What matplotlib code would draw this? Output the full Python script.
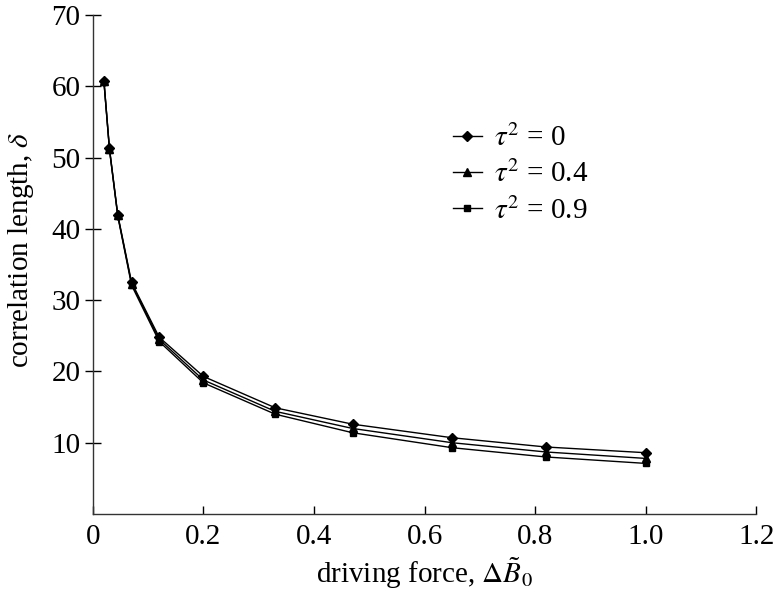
import matplotlib
matplotlib.use("Agg")
import matplotlib.pyplot as plt

# driving force values (x) and correlation length for each tau^2
force = [0.02, 0.03, 0.045, 0.07, 0.12, 0.2, 0.33, 0.47, 0.65, 0.82, 1.0]
delta_t0 = [60.8, 51.3, 42.0, 32.5, 24.8, 19.3, 14.9, 12.6, 10.7, 9.4, 8.6]
delta_t04 = [60.7, 51.2, 41.9, 32.3, 24.5, 18.8, 14.4, 12.0, 10.0, 8.7, 7.8]
delta_t09 = [60.6, 51.1, 41.8, 32.1, 24.2, 18.4, 14.0, 11.4, 9.3, 8.0, 7.1]

series = [
    (delta_t0, "D", 5.5, r"$\tau^2$ = 0"),
    (delta_t04, "^", 6.0, r"$\tau^2$ = 0.4"),
    (delta_t09, "s", 5.0, r"$\tau^2$ = 0.9"),
]

xticks = [0, 0.2, 0.4, 0.6, 0.8, 1.0, 1.2]
xtick_labels = ["0", "0.2", "0.4", "0.6", "0.8", "1.0", "1.2"]
yticks = [10, 20, 30, 40, 50, 60, 70]

plt.rcParams["font.family"] = ["Liberation Serif", "DejaVu Serif"]
plt.rcParams["mathtext.fontset"] = "stix"

fig = plt.figure(figsize=(7.74, 6.04), dpi=100)
ax = fig.add_axes([0.120, 0.149, 0.857, 0.826])

for vals, marker, ms, label in series:
    ax.plot(force, vals, color="black", linewidth=1.0, marker=marker,
            markersize=ms, label=label)

ax.set_xlim(0, 1.2)
ax.set_ylim(0, 70)
ax.set_xticks(xticks)
ax.set_xticklabels(xtick_labels)
ax.set_yticks(yticks)

ax.spines["top"].set_visible(False)
ax.spines["right"].set_visible(False)
for side in ("left", "bottom"):
    ax.spines[side].set_linewidth(1.0)
    ax.spines[side].set_color("#333333")

ax.tick_params(axis="x", direction="in", length=6, width=1.0, labelsize=21, pad=7)
ax.tick_params(axis="y", direction="inout", length=12, width=1.0, labelsize=21, pad=3)

ax.set_xlabel(r"driving force, $\Delta\tilde{B}_0$", fontsize=21, labelpad=4)
ax.set_ylabel(r"correlation length, $\delta$", fontsize=21)
ax.yaxis.set_label_coords(-0.085, 0.53)

ax.legend(loc="upper left", bbox_to_anchor=(0.525, 0.805), frameon=False,
          fontsize=21, handlelength=1.0, handletextpad=0.4, labelspacing=0.3,
          markerscale=0.9, borderaxespad=0)

fig.savefig("out.png", dpi=100)
